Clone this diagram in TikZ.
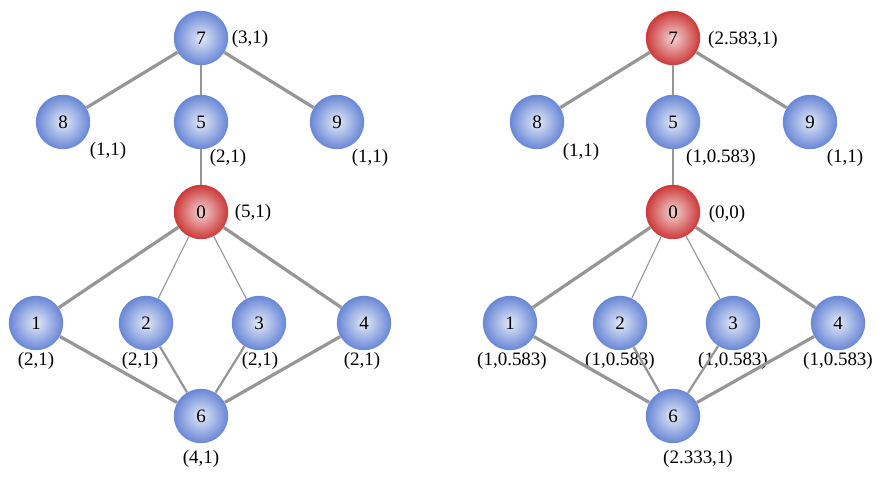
\documentclass[tikz,border=0pt]{standalone}
\usepackage{fontspec}
\setmainfont{Liberation Serif}
\definecolor{ballblue}{RGB}{104,134,214}
\definecolor{ballred}{RGB}{204,56,56}
\definecolor{edgegray}{RGB}{150,150,150}
\tikzset{
  vtx/.style={circle, minimum size=1.36cm, inner sep=0pt, shading=radial,
    inner color=white!82!ballblue, outer color=ballblue, font=\fontsize{13.5}{15}\selectfont},
  hot/.style={vtx, inner color=white!78!ballred, outer color=ballred},
  lab/.style={inner sep=0pt, font=\fontsize{13.5}{15}\selectfont},
  thick edge/.style={draw=edgegray, line width=2.3pt},
  mid edge/.style={draw=edgegray, line width=1.6pt},
  thin edge/.style={draw=edgegray, line width=0.8pt}
}
\begin{document}
\begin{tikzpicture}[x=0.025cm, y=-0.025cm]
\useasboundingbox (0,0) rectangle (880,480);

% left graph
\node[vtx] (l7) at (201,38) {7};
\node[vtx] (l8) at (63,122) {8};
\node[vtx] (l5) at (201,122) {5};
\node[vtx] (l9) at (337,122) {9};
\node[hot] (l0) at (201,212) {0};
\node[vtx] (l1) at (36,323) {1};
\node[vtx] (l2) at (146,323) {2};
\node[vtx] (l3) at (259,323) {3};
\node[vtx] (l4) at (364,323) {4};
\node[vtx] (l6) at (201,416) {6};

\node[lab] (l7lab) at (250,39) {(3,1)};
\node[lab] (l8lab) at (108,151) {(1,1)};
\node[lab] (l5lab) at (228,158) {(2,1)};
\node[lab] (l9lab) at (370,158) {(1,1)};
\node[lab] (l0lab) at (253,213) {(5,1)};
\node[lab] (l1lab) at (36,361) {(2,1)};
\node[lab] (l2lab) at (140,361) {(2,1)};
\node[lab] (l3lab) at (260,361) {(2,1)};
\node[lab] (l4lab) at (362,361) {(2,1)};
\node[lab] (l6lab) at (201,459) {(4,1)};

\path[thick edge] (l7) -- (l8);
\path[thick edge] (l7) -- (l9);
\path[thin edge] (l7) -- (l5);
\path[thin edge] (l5) -- (l0);
\path[thick edge] (l0) -- (l1);
\path[thin edge] (l0) -- (l2);
\path[thin edge] (l0) -- (l3);
\path[thick edge] (l0) -- (l4);
\path[thick edge] (l1) -- (l6);
\path[mid edge] (l2) -- (l6);
\path[mid edge] (l3) -- (l6);
\path[thick edge] (l4) -- (l6);

% right graph
\node[hot] (r7) at (673,38) {7};
\node[vtx] (r8) at (537,122) {8};
\node[vtx] (r5) at (673,122) {5};
\node[vtx] (r9) at (810,122) {9};
\node[hot] (r0) at (673,212) {0};
\node[vtx] (r1) at (510,323) {1};
\node[vtx] (r2) at (620,323) {2};
\node[vtx] (r3) at (733,323) {3};
\node[vtx] (r4) at (838,323) {4};
\node[vtx] (r6) at (673,416) {6};

\node[lab] (r7lab) at (743,40) {(2.583,1)};
\node[lab] (r8lab) at (581,152) {(1,1)};
\node[lab] (r5lab) at (721,158) {(1,0.583)};
\node[lab] (r9lab) at (845,158) {(1,1)};
\node[lab] (r0lab) at (727,214) {(0,0)};
\node[lab] (r1lab) at (512,361) {(1,0.583)};
\node[lab] (r2lab) at (620,361) {(1,0.583)};
\node[lab] (r3lab) at (733,361) {(1,0.583)};
\node[lab] (r4lab) at (838,361) {(1,0.583)};
\node[lab] (r6lab) at (698,459) {(2.333,1)};

\path[thick edge] (r7) -- (r8);
\path[thick edge] (r7) -- (r9);
\path[thin edge] (r7) -- (r5);
\path[thin edge] (r5) -- (r0);
\path[thick edge] (r0) -- (r1);
\path[thin edge] (r0) -- (r2);
\path[thin edge] (r0) -- (r3);
\path[thick edge] (r0) -- (r4);
\path[thick edge] (r1) -- (r6);
\path[mid edge] (r2) -- (r6);
\path[mid edge] (r3) -- (r6);
\path[thick edge] (r4) -- (r6);
\end{tikzpicture}
\end{document}
